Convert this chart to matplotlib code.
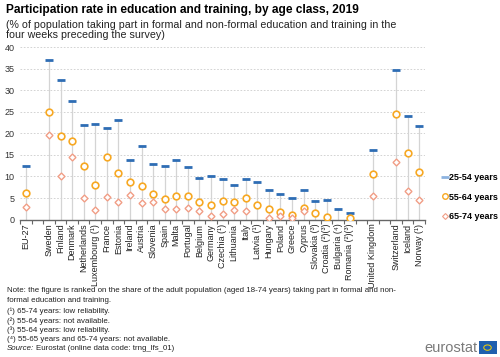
import numpy as np
import matplotlib
matplotlib.use("Agg")
import matplotlib.pyplot as plt
from matplotlib.lines import Line2D
from matplotlib.patches import Rectangle, Circle

plt.rcParams['font.family'] = ['Liberation Sans', 'DejaVu Sans']

nan = np.nan
countries = ["EU-27", "", "Sweden", "Finland", "Denmark", "Netherlands", "Luxembourg (¹)",
             "France", "Estonia", "Ireland", "Austria", "Slovenia", "Spain", "Malta",
             "Portugal", "Belgium", "Germany", "Czechia (¹)", "Lithuania", "Italy",
             "Latvia (¹)", "Hungary", "Poland", "Greece", "Cyprus", "Slovakia (³)",
             "Croatia (²)(³)", "Bulgaria (⁴)", "Romania (²)(³)", "", "United Kingdom", "",
             "Switzerland", "Iceland", "Norway (¹)"]
age_25_54 = [12.4, nan, 37.1, 32.4, 27.5, 21.9, 22.1, 21.3, 23.1, 13.7, 17.0, 13.0, 12.4, 13.8,
             12.2, 9.6, 10.0, 9.3, 8.1, 9.3, 8.7, 6.8, 5.9, 5.0, 6.8, 4.3, 4.6, 2.4, 1.6,
             nan, 16.2, nan, 34.7, 24.1, 21.7]
age_55_64 = [6.2, nan, 25.0, 19.3, 18.3, 12.4, 7.9, 14.4, 10.7, 8.7, 7.7, 6.0, 4.8, 5.5,
             5.4, 4.1, 3.3, 4.4, 4.1, 4.9, 3.4, 2.5, 1.7, 1.0, 2.7, 1.6, 0.5, nan, 0.3,
             nan, 10.5, nan, 24.4, 15.4, 11.0]
age_65_74 = [2.9, nan, 19.6, 10.1, 14.5, 4.9, 2.2, 5.2, 4.1, 5.7, 3.8, 4.0, 2.4, 2.4,
             2.7, 1.9, 0.9, 1.4, 2.2, 2.0, nan, 0.4, 0.9, 0.35, 2.0, nan, nan, nan, nan,
             nan, 5.4, nan, 13.4, 6.6, 4.5]
legend_labels = ["25-54 years", "55-64 years", "65-74 years"]

blue = "#2E6DB4"
orange = "#F7A823"
pink = "#F19E86"

fig = plt.figure(figsize=(5.0, 3.57), dpi=100)
ax = fig.add_axes([0.04, 0.385, 0.81, 0.483])

x = np.arange(len(countries))
a = np.array(age_25_54, dtype=float)
b = np.array(age_55_64, dtype=float)
c = np.array(age_65_74, dtype=float)
top = np.nanmax(np.vstack([a, b, c]), axis=0)
valid = ~np.isnan(top)
ax.vlines(x[valid], 0, top[valid], color="#d4d4d4", lw=0.9, zorder=1)

ax.plot(x, a, ls="none", marker="_", ms=5.5, mew=2.0, color=blue, zorder=3)
ax.plot(x, b, ls="none", marker="o", ms=4.8, mfc="white", mec=orange, mew=1.2, zorder=3)
ax.plot(x, c, ls="none", marker="D", ms=3.5, mfc="white", mec=pink, mew=1.0, zorder=3)

ax.set_xlim(-0.5, len(countries) - 0.5)
ax.set_ylim(0, 40)
ax.set_yticks(np.arange(0, 41, 5))
ax.yaxis.grid(True, ls=(0, (2, 2)), color="#cccccc", lw=0.6)
ax.set_axisbelow(True)
ax.tick_params(axis="y", length=0, labelsize=6.5, colors="#333333", pad=4)
ax.set_xticks(x)
ax.set_xticklabels(countries, rotation=90, fontsize=6.5, color="#222222")
ax.set_xticks(np.arange(-0.5, len(countries), 1), minor=True)
ax.tick_params(axis="x", which="major", length=0, pad=3)
ax.tick_params(axis="x", which="minor", length=3, color="#666666", width=0.8)
for s in ["top", "right", "left"]:
    ax.spines[s].set_visible(False)
ax.spines["bottom"].set_color("#666666")
ax.spines["bottom"].set_linewidth(1.0)

handles = [Line2D([], [], ls="none", marker="_", ms=6, mew=2, color="#8DB3E0"),
           Line2D([], [], ls="none", marker="o", ms=4, mfc="white", mec=orange, mew=1.0),
           Line2D([], [], ls="none", marker="D", ms=3, mfc="white", mec=pink, mew=0.8)]
fig.legend(handles, legend_labels, loc="upper left", bbox_to_anchor=(0.868, 1 - 165 / 357),
           frameon=False, handlelength=0.6, handletextpad=0.2, labelspacing=1.15,
           prop={"weight": "bold", "size": 6.5})

fig.text(0.012, 0.972, "Participation rate in education and training, by age class, 2019",
         fontsize=8.6, fontweight="bold", va="center", ha="left")
fig.text(0.012, 0.93, "(% of population taking part in formal and non-formal education and training in the",
         fontsize=7.7, va="center", ha="left", color="#222222")
fig.text(0.012, 0.902, "four weeks preceding the survey)",
         fontsize=7.7, va="center", ha="left", color="#222222")

fs_note = 5.7
notes = ["Note: the figure is ranked on the share of the adult population (aged 18-74 years) taking part in formal and non-",
         "formal education and training."]
ys = [291, 300.5]
for t, yy in zip(notes, ys):
    fig.text(0.014, 1 - yy / 357, t, fontsize=fs_note, va="center", ha="left", color="#222222")
foot = ["(¹) 65-74 years: low reliability.",
        "(²) 55-64 years: not available.",
        "(³) 55-64 years: low reliability.",
        "(⁴) 55-65 years and 65-74 years: not available."]
for i, t in enumerate(foot):
    fig.text(0.014, 1 - (311.5 + i * 9.2) / 357, t, fontsize=fs_note, va="center", ha="left", color="#222222")
fig.text(0.014, 1 - 348.5 / 357, "Source:", fontsize=fs_note, style="italic", va="center", ha="left", color="#222222")
fig.text(0.071, 1 - 348.5 / 357, "Eurostat (online data code: trng_lfs_01)", fontsize=fs_note, va="center",
         ha="left", color="#222222")

# logo
fig.text(0.848, 1 - 348 / 357, "eurostat", fontsize=10.5, color="#7a7a7a", va="center", ha="left")
fig.patches.append(Rectangle((0.957, 1 - 354 / 357), 0.036, 0.036, transform=fig.transFigure,
                             facecolor="#1f5fae", edgecolor="none"))
fig.patches.append(Circle((0.975, 1 - 347.6 / 357), 0.0075, transform=fig.transFigure,
                          facecolor="none", edgecolor="#f5d000", lw=0.7))

fig.savefig("out.png", dpi=100)
